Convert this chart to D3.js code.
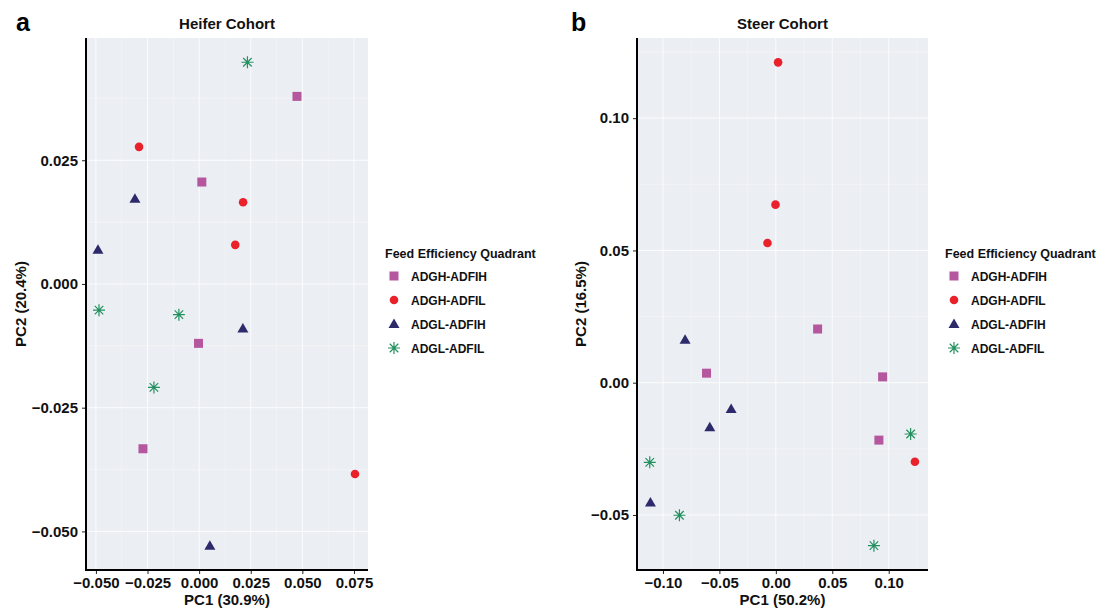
<!DOCTYPE html>
<html>
<head>
<meta charset="utf-8">
<script src="https://cdn.jsdelivr.net/npm/d3@7"></script>
<style>
  body { margin: 0; background: #fff; }
  text { font-family: "Liberation Sans", Arial, sans-serif; }
</style>
</head>
<body>
<div id="chart"></div>
<script>
// groups and their legend order
var groups = ["ADGH-ADFIH", "ADGH-ADFIL", "ADGL-ADFIH", "ADGL-ADFIL"];
var groupColors = ["#b5579f", "#e8212b", "#2d2a6c", "#23915f"];

// heifer cohort
var heiferGroup = ["ADGH-ADFIH", "ADGH-ADFIH", "ADGH-ADFIH", "ADGH-ADFIH",
                   "ADGH-ADFIL", "ADGH-ADFIL", "ADGH-ADFIL", "ADGH-ADFIL",
                   "ADGL-ADFIH", "ADGL-ADFIH", "ADGL-ADFIH", "ADGL-ADFIH",
                   "ADGL-ADFIL", "ADGL-ADFIL", "ADGL-ADFIL", "ADGL-ADFIL"];
var heiferPC1 = [0.0474, 0.0013, -0.0003, -0.0272,
                 -0.0291, 0.0213, 0.0175, 0.0755,
                 -0.0311, -0.0490, 0.0212, 0.0052,
                 0.0234, -0.0485, -0.0098, -0.0219];
var heiferPC2 = [0.0379, 0.0206, -0.0120, -0.0333,
                 0.0277, 0.0165, 0.0079, -0.0384,
                 0.0172, 0.0069, -0.0090, -0.0529,
                 0.0448, -0.0053, -0.0062, -0.0209];
var heiferXTicks = [-0.050, -0.025, 0.000, 0.025, 0.050, 0.075];
var heiferYTicks = [-0.050, -0.025, 0.000, 0.025];

// steer cohort
var steerGroup = heiferGroup.slice();
var steerPC1 = [0.0370, -0.0614, 0.0946, 0.0913,
                0.0020, -0.0003, -0.0074, 0.1232,
                -0.0804, -0.0396, -0.0585, -0.1111,
                0.1194, -0.1117, -0.0854, 0.0869];
var steerPC2 = [0.0203, 0.0036, 0.0022, -0.0217,
                0.1211, 0.0673, 0.0528, -0.0299,
                0.0162, -0.0099, -0.0168, -0.0453,
                -0.0194, -0.0301, -0.0501, -0.0616];
var steerXTicks = [-0.10, -0.05, 0.00, 0.05, 0.10];
var steerYTicks = [-0.05, 0.00, 0.05, 0.10];

var W = 1103, H = 609;
var svg = d3.select("#chart").append("svg").attr("width", W).attr("height", H);

var color = d3.scaleOrdinal().domain(groups).range(groupColors);

// draw a marker for a group at (0,0)
function marker(g, grp) {
  var c = color(grp);
  if (grp === "ADGH-ADFIH") {
    g.append("rect").attr("x", -4.5).attr("y", -4.5).attr("width", 9).attr("height", 9).attr("fill", c);
  } else if (grp === "ADGH-ADFIL") {
    g.append("circle").attr("r", 4.3).attr("fill", c);
  } else if (grp === "ADGL-ADFIH") {
    g.append("path").attr("d", "M0,-5.5L5.5,4L-5.5,4Z").attr("fill", c);
  } else {
    var r = 6, d = r * 0.707;
    g.append("path")
      .attr("d", "M" + -r + ",0L" + r + ",0M0," + -r + "L0," + r +
                 "M" + -d + "," + -d + "L" + d + "," + d + "M" + -d + "," + d + "L" + d + "," + -d)
      .attr("stroke", c).attr("stroke-width", 1.2).attr("fill", "none");
  }
}

function panel(opts) {
  var x = d3.scaleLinear().domain(opts.xDomain).range([opts.left, opts.right]);
  var y = d3.scaleLinear().domain(opts.yDomain).range([opts.bottom, opts.top]);

  svg.append("rect")
    .attr("x", opts.left).attr("y", opts.top)
    .attr("width", opts.right - opts.left).attr("height", opts.bottom - opts.top)
    .attr("fill", "#ebeef2");

  // minor grid lines halfway between majors
  var xs = opts.xTicks, ys = opts.yTicks;
  var xStep = xs[1] - xs[0], yStep = ys[1] - ys[0];
  var xMinor = [xs[0] - xStep / 2].concat(xs.map(function(t) { return t + xStep / 2; }));
  var yMinor = [ys[0] - yStep / 2].concat(ys.map(function(t) { return t + yStep / 2; }));
  xMinor = xMinor.filter(function(t) { return t > opts.xDomain[0] && t < opts.xDomain[1]; });
  yMinor = yMinor.filter(function(t) { return t > opts.yDomain[0] && t < opts.yDomain[1]; });

  svg.append("g").selectAll("line").data(xMinor).enter().append("line")
    .attr("x1", function(d) { return x(d); }).attr("x2", function(d) { return x(d); })
    .attr("y1", opts.top).attr("y2", opts.bottom)
    .attr("stroke", "#f8f9fb").attr("stroke-width", 0.5);
  svg.append("g").selectAll("line").data(yMinor).enter().append("line")
    .attr("y1", function(d) { return y(d); }).attr("y2", function(d) { return y(d); })
    .attr("x1", opts.left).attr("x2", opts.right)
    .attr("stroke", "#f8f9fb").attr("stroke-width", 0.5);
  svg.append("g").selectAll("line").data(xs).enter().append("line")
    .attr("x1", function(d) { return x(d); }).attr("x2", function(d) { return x(d); })
    .attr("y1", opts.top).attr("y2", opts.bottom)
    .attr("stroke", "#fbfcfd").attr("stroke-width", 1);
  svg.append("g").selectAll("line").data(ys).enter().append("line")
    .attr("y1", function(d) { return y(d); }).attr("y2", function(d) { return y(d); })
    .attr("x1", opts.left).attr("x2", opts.right)
    .attr("stroke", "#fbfcfd").attr("stroke-width", 1);

  // axes
  var xAxis = d3.axisBottom(x).tickValues(xs).tickSize(4).tickPadding(3).tickFormat(d3.format(opts.fmt));
  var yAxis = d3.axisLeft(y).tickValues(ys).tickSize(4).tickPadding(4).tickFormat(d3.format(opts.fmt));

  var gx = svg.append("g").attr("transform", "translate(0," + opts.bottom + ")").call(xAxis);
  var gy = svg.append("g").attr("transform", "translate(" + opts.left + ",0)").call(yAxis);
  [gx, gy].forEach(function(g) {
    g.select(".domain").remove();
    g.selectAll(".tick line").attr("stroke", "#222").attr("stroke-width", 1);
    g.selectAll(".tick text").attr("fill", "#111").style("font-size", "15px").style("font-weight", "bold");
  });
  gx.selectAll(".tick text").text(function(d) { return d3.format(opts.fmt)(d).replace("-", "\u2212"); });
  gy.selectAll(".tick text").text(function(d) { return d3.format(opts.fmt)(d).replace("-", "\u2212"); });

  svg.append("line").attr("x1", opts.left).attr("x2", opts.left)
    .attr("y1", opts.top).attr("y2", opts.bottom + 1)
    .attr("stroke", "#000").attr("stroke-width", 2);
  svg.append("line").attr("x1", opts.left - 1).attr("x2", opts.right)
    .attr("y1", opts.bottom).attr("y2", opts.bottom)
    .attr("stroke", "#000").attr("stroke-width", 2);

  // points
  svg.append("g").selectAll("g").data(opts.pc1.map(function(v, i) {
      return { x: v, y: opts.pc2[i], g: opts.grp[i] };
    }))
    .enter().append("g")
    .attr("transform", function(d) { return "translate(" + x(d.x) + "," + y(d.y) + ")"; })
    .each(function(d) { marker(d3.select(this), d.g); });

  // titles
  var cx = (opts.left + opts.right) / 2;
  svg.append("text").attr("x", cx).attr("y", 29).attr("text-anchor", "middle")
    .style("font-size", "15px").style("font-weight", "bold").attr("fill", "#111").text(opts.title);
  svg.append("text").attr("x", opts.letterX).attr("y", 31)
    .style("font-size", "25px").style("font-weight", "bold").attr("fill", "#000").text(opts.letter);
  svg.append("text").attr("x", cx).attr("y", 605).attr("text-anchor", "middle")
    .style("font-size", "15px").style("font-weight", "bold").attr("fill", "#111").text(opts.xLabel);
  svg.append("text")
    .attr("transform", "translate(" + opts.yLabelX + "," + ((opts.top + opts.bottom) / 2) + ") rotate(-90)")
    .attr("text-anchor", "middle")
    .style("font-size", "15px").style("font-weight", "bold").attr("fill", "#111").text(opts.yLabel);

  // legend
  var lg = svg.append("g").attr("transform", "translate(" + opts.legendX + ",0)");
  lg.append("text").attr("x", 0).attr("y", 258)
    .style("font-size", "12.5px").style("font-weight", "bold").attr("fill", "#111")
    .text("Feed Efficiency Quadrant");
  groups.forEach(function(grp, i) {
    var yy = 276 + i * 24;
    var m = lg.append("g").attr("transform", "translate(9," + yy + ")");
    marker(m, grp);
    lg.append("text").attr("x", 26).attr("y", yy + 4.5)
      .style("font-size", "12px").style("font-weight", "bold").attr("fill", "#111").text(grp);
  });
}

panel({
  left: 86, right: 368, top: 38, bottom: 570,
  xDomain: [-0.0548, 0.0818], yDomain: [-0.0578, 0.0497],
  xTicks: heiferXTicks, yTicks: heiferYTicks, fmt: ".3f",
  pc1: heiferPC1, pc2: heiferPC2, grp: heiferGroup,
  title: "Heifer Cohort", letter: "a", letterX: 16,
  xLabel: "PC1 (30.9%)", yLabel: "PC2 (20.4%)", yLabelX: 26,
  legendX: 385
});

panel({
  left: 637, right: 928, top: 38, bottom: 570,
  xDomain: [-0.1230, 0.1348], yDomain: [-0.0708, 0.1303],
  xTicks: steerXTicks, yTicks: steerYTicks, fmt: ".2f",
  pc1: steerPC1, pc2: steerPC2, grp: steerGroup,
  title: "Steer Cohort", letter: "b", letterX: 571,
  xLabel: "PC1 (50.2%)", yLabel: "PC2 (16.5%)", yLabelX: 586,
  legendX: 945
});
</script>
</body>
</html>
